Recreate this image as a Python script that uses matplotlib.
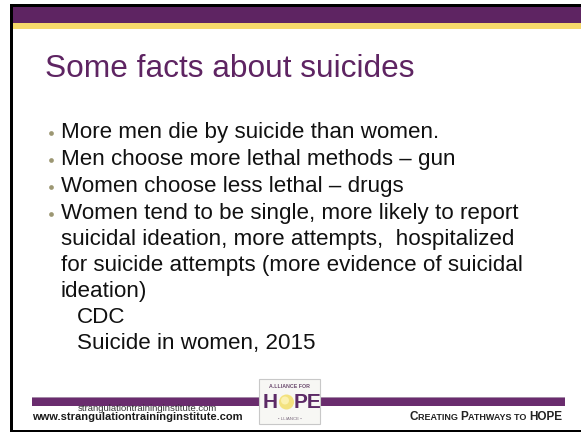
#!/usr/bin/env python3
"""Slide: Some facts about suicides"""

import matplotlib
matplotlib.use("Agg")
import matplotlib.pyplot as plt
from matplotlib.patches import Rectangle, Circle

# ============================================================
# slide content
# ============================================================
TITLE = "Some facts about suicides"
BULLETS = [
    ["More men die by suicide than women."],
    ["Men choose more lethal methods \u2013 gun"],
    ["Women choose less lethal \u2013 drugs"],
    ["Women tend to be single, more likely to report",
     "suicidal ideation, more attempts,  hospitalized",
     "for suicide attempts (more evidence of suicidal",
     "ideation)"],
]
SOURCES = ["CDC", "Suicide in women, 2015"]
FOOTER_URL = "www.strangulationtraininginstitute.com"
FOOTER_URL_SMALL = "strangulationtraininginstitute.com"
TAGLINE = [("C", 8.5), ("REATING ", 6.5), ("P", 8.5), ("ATHWAYS ", 6.5),
           ("TO ", 6.5), ("HOPE", 8.5)]

PURPLE = "#5E2462"
YELLOW = "#F6D96B"
BULLET_CLR = "#9C9773"
FONT = "Liberation Sans"

W, H = 581, 435
fig = plt.figure(figsize=(W / 100, H / 100), dpi=100)
ax = fig.add_axes([0, 0, 1, 1])
ax.set_xlim(0, W)
ax.set_ylim(H, 0)
ax.axis("off")

# frame and top bands
ax.add_patch(Rectangle((10, 5), W - 10, 2.5, color="black", lw=0))
ax.add_patch(Rectangle((10, 5), 2.8, 428, color="black", lw=0))
ax.add_patch(Rectangle((10, 430.5), W - 10, 2.5, color="black", lw=0))
ax.add_patch(Rectangle((12.8, 7.5), W, 16, color=PURPLE, lw=0))
ax.add_patch(Rectangle((12.8, 23.5), W, 6.5, color=YELLOW, lw=0))

# title
ax.text(45, 69, TITLE, fontsize=22.8, color=PURPLE, family=FONT, va="center", ha="left")

# bullets
y = 133
for lines in BULLETS:
    ax.plot([51], [y + 1], "o", ms=3.4, color=BULLET_CLR, mec="none")
    for ln in lines:
        ax.text(61, y, ln, fontsize=16.1, color="#111111", family=FONT, va="center", ha="left")
        y += 26
    y += 1
y -= 1
for s in SOURCES:
    ax.text(77, y, s, fontsize=16.1, color="#111111", family=FONT, va="center", ha="left")
    y += 26

# footer bars
ax.add_patch(Rectangle((32, 398), 228, 9, color="#6A2C6E", lw=0))
ax.add_patch(Rectangle((320, 398), 245, 9, color="#6A2C6E", lw=0))
ax.add_patch(Rectangle((32, 397.5), 228, 1.2, color="#A58AA8", lw=0))
ax.add_patch(Rectangle((320, 397.5), 245, 1.2, color="#A58AA8", lw=0))

ax.text(32, 417.5, FOOTER_URL, fontsize=8.0, weight="bold", color="#1A1A1A",
        family=FONT, va="center", ha="left")
ax.text(78, 409, FOOTER_URL_SMALL, fontsize=6.8, color="#333333",
        family=FONT, va="center", ha="left")

# tagline in small caps, pieces placed one after another
fig.canvas.draw()
renderer = fig.canvas.get_renderer()
inv = ax.transData.inverted()
pieces = []
for txt, fs in TAGLINE:
    t = ax.text(0, 420.5, txt, fontsize=fs, weight="bold", color="#222222",
                family=FONT, va="baseline", ha="left")
    pieces.append(t)
widths = []
for t in pieces:
    bb = t.get_window_extent(renderer)
    x0 = inv.transform((bb.x0, 0))[0]
    x1 = inv.transform((bb.x1, 0))[0]
    widths.append(x1 - x0)
x = 562 - sum(widths)
for t, w in zip(pieces, widths):
    t.set_x(x)
    x += w

# logo
ax.add_patch(Rectangle((259, 380), 61, 45, facecolor="#F7F7F4", edgecolor="#C8C8C8", lw=0.8))
ax.text(289.5, 387, "A.LLIANCE FOR", fontsize=3.8, color="#6B4A6E", family=FONT,
        weight="bold", ha="center", va="center")
ax.add_patch(Circle((286.5, 403), 7.5, color="#F3E27E", lw=0))
ax.add_patch(Circle((285, 401.5), 4, color="#FBF1B0", lw=0))
ax.text(263, 403, "H", fontsize=15, weight="bold", color="#5C2A66", family=FONT,
        ha="left", va="center")
ax.text(294, 403, "PE", fontsize=15, weight="bold", color="#5C2A66", family=FONT,
        ha="left", va="center")
ax.text(289.5, 419, "\u2022 LLIANCE \u2022", fontsize=3.2, color="#7A6A7E", family=FONT,
        ha="center", va="center")

fig.savefig("out.png", dpi=100)
